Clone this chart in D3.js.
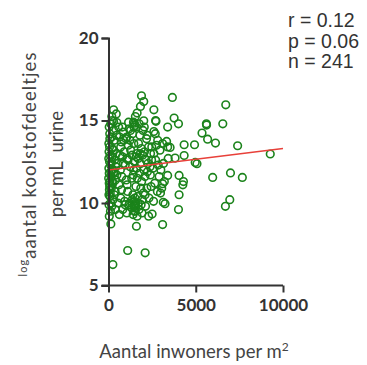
<!DOCTYPE html>
<html>
<head>
<meta charset="utf-8">
<script src="https://cdn.jsdelivr.net/npm/d3@7"></script>
<style>
  html, body { margin: 0; padding: 0; background: #fff; }
  svg { display: block; }
</style>
</head>
<body>
<svg id="chart" width="367" height="365"></svg>
<script>
// Population density (inhabitants per m²) and log particle count per mL urine
const popDensity = [
  // sparse right-hand part and outliers
  3660, 6720, 3760, 4010, 3390, 5610, 5620, 6550, 5360, 5680, 6130, 7400, 4930, 4335, 3330, 3530, 3390,
  4335, 3815, 3420, 4970, 5070, 9270, 3390, 4045, 4295, 4260, 5970, 6990, 7670, 3100, 4045, 3240, 3140,
  4010, 3100, 6950, 6700, 250, 1100, 2100, 1600, 135, 2500,
  // upper group
  1890, 2020, 2600, 1830, 1640, 1540, 290, 445, 190, 290, 480, 1485, 1430, 1520, 1460, 2020, 2700, 2720, 2600,
  // column near zero
  20, 40, 60, 30, 80, 50, 100, 20, 70, 40, 90, 30, 150, 120, 60, 180, 200, 160, 110, 250, 230, 280, 300, 260,
  320, 350, 340, 380, 400, 420, 450, 470, 390, 210, 130, 10, 15, 25, 45, 75, 95, 140, 190, 330, 480,
  // 500 - 1500
  520, 210, 600, 640, 680, 700, 730, 760, 800, 820, 850, 70, 900, 930, 960, 1000, 1020, 1050, 1080, 1100,
  1130, 130, 1190, 1210, 1240, 1270, 40, 1330, 1350, 1380, 1400, 1420, 1450, 1480, 1490, 540, 580, 620,
  660, 750, 790, 840, 870, 290, 100, 1040, 1070, 1120, 1170, 1230, 180, 1360, 1440, 700, 950, 1150, 1260,
  1410, 1470, 1330,
  // 1500 - 2500
  1500, 1520, 1550, 1480, 1530, 1560, 1510, 1570, 1600, 1620, 1650, 1680, 1700, 1720, 1750, 1780, 1800, 1830,
  1850, 1880, 1900, 1920, 1950, 1980, 2000, 2030, 2060, 2090, 2120, 2150, 2180, 2200, 2230, 2260, 2290, 2320,
  230, 2380, 2410, 2440, 2470, 1600, 1640, 1760, 1700, 1870, 1940, 2050, 2100, 2220, 2300, 2400, 2480, 1590, 1820,
  // 2500 - 3500
  2550, 2600, 2650, 2700, 2750, 2800, 2850, 2900, 2950, 3000, 3050, 3100, 3150, 3200, 2580, 2680, 2820, 2980
];
const logParticles = [
  16.4, 15.95, 15.15, 14.8, 14.6, 14.8, 14.72, 14.8, 14.24, 13.87, 13.63, 13.47, 13.53, 13.53, 13.73, 13.37, 13.4,
  12.88, 12.72, 12.7, 12.46, 12.38, 12.97, 11.67, 11.67, 11.3, 11.1, 11.55, 11.82, 11.55, 11.17, 10.5, 9.96, 10.04,
  9.6, 8.69, 10.2, 9.8, 6.27, 7.12, 6.98, 8.59, 8.73, 9.33,
  16.5, 16.15, 15.65, 15.85, 15.45, 15.24, 15.65, 15.4, 15.24, 14.94, 14.88, 14.84, 14.9, 14.7, 14.6, 14.98, 15.0, 14.95, 14.33,
  12.1, 11.8, 12.5, 13.1, 11.3, 10.8, 12.9, 13.6, 14.2, 14.6, 10.4, 9.9, 11.6, 12.3, 13.4, 14.0, 12.8, 10.9, 9.5, 11.2, 12.0, 13.2, 14.4, 10.2,
  11.9, 12.6, 13.8, 10.7, 11.4, 12.2, 13.0, 14.1, 9.6, 15.0, 14.8, 11.5, 12.7, 10.5, 9.2, 13.9, 11.0, 10.0, 9.8, 10.5, 11.7,
  12.4, 13.3, 11.1, 14.0, 12.0, 10.3, 13.7, 11.6, 12.8, 9.6, 14.3, 11.0, 13.1, 10.1, 12.3, 13.9, 11.4, 9.4, 12.7, 10.7,
  13.5, 11.9, 14.5, 10.0, 12.2, 13.2, 11.2, 9.7, 12.9, 14.2, 10.5, 11.7, 13.6, 9.5, 12.5, 10.0, 14.6, 9.3,
  12.9, 10.8, 14.6, 12.4, 13.8, 11.8, 10.6, 14.0, 11.1, 12.6, 9.9, 13.8, 12.5, 10.2, 12.0, 13.4, 9.9, 14.9, 14.4,
  9.3, 9.8, 11.5,
  9.9, 9.7, 10.0, 10.1, 9.5, 9.8, 10.3, 11.0, 12.1, 13.0, 11.5, 10.4, 12.7, 13.6, 9.6, 11.8, 14.1, 12.4,
  10.9, 13.3, 11.3, 9.4, 12.9, 14.4, 10.6, 12.0, 13.1, 11.6, 9.8, 12.6, 13.9, 10.9, 11.9, 12.4, 13.4, 10.3,
  11.3, 12.2, 13.0, 11.0, 12.6, 14.6, 9.2, 14.8, 10.0, 9.9, 10.2, 14.6, 10.5, 14.1, 9.2, 11.7, 13.4, 12.8, 13.0,
  12.1, 13.0, 11.2, 12.6, 13.5, 10.7, 12.3, 11.6, 13.2, 12.0, 10.9, 13.6, 12.4, 11.3, 10.1, 14.2, 13.8, 10.6
];
// Linear fit endpoints
const fitX = [0, 10000];
const fitY = [12.0, 13.3];
// Axis ticks and statistics
const xTicks = [0, 5000, 10000];
const yTicks = [5, 10, 15, 20];
const statLines = ["r = 0.12", "p = 0.06", "n = 241"];

const svg = d3.select("#chart");
const axisColor = "#333";
const green = "#1b831b";
const labelFont = "Lato, 'Open Sans', sans-serif";

const x = d3.scaleLinear().domain([0, 10000]).range([108.5, 283]);
const y = d3.scaleLinear().domain([5, 20]).range([285.5, 38]);

// Scatter points
svg.append("g")
  .selectAll("circle")
  .data(popDensity.map((d, i) => [d, logParticles[i]]))
  .join("circle")
  .attr("cx", d => x(d[0]))
  .attr("cy", d => y(d[1]))
  .attr("r", 3.8)
  .attr("fill", "none")
  .attr("stroke", green)
  .attr("stroke-width", 1.6);

// Regression line
svg.append("line")
  .attr("x1", x(fitX[0])).attr("y1", y(fitY[0]))
  .attr("x2", x(fitX[1])).attr("y2", y(fitY[1]))
  .attr("stroke", "#e8403a")
  .attr("stroke-width", 1.5);

// Axes
const xAxis = svg.append("g")
  .attr("transform", `translate(0,${y(5)})`)
  .call(d3.axisBottom(x).tickValues(xTicks).tickFormat(d3.format("d")).tickSize(7).tickPadding(6));
const yAxis = svg.append("g")
  .attr("transform", `translate(${x(0)},0)`)
  .call(d3.axisLeft(y).tickValues(yTicks).tickSize(7).tickPadding(3));

[xAxis, yAxis].forEach(g => {
  g.select(".domain").attr("stroke", axisColor).attr("stroke-width", 2);
  g.selectAll(".tick line").attr("stroke", axisColor).attr("stroke-width", 2);
  g.selectAll(".tick text")
    .attr("fill", axisColor)
    .style("font-family", labelFont)
    .style("font-weight", "bold")
    .style("font-size", "17px");
});
xAxis.select(".domain").attr("d", `M${x(0) - 7},0H${x(10000)}`);

// Axis titles
svg.append("text")
  .attr("x", 194).attr("y", 358)
  .attr("text-anchor", "middle")
  .attr("fill", "#444")
  .style("font-family", labelFont)
  .style("font-size", "18.5px")
  .html('Aantal inwoners per m<tspan dy="-7" font-size="12px">2</tspan>');

const yTitle = svg.append("g")
  .attr("transform", "translate(0,164) rotate(-90)")
  .style("font-family", labelFont)
  .style("font-size", "18.5px")
  .attr("fill", "#444");
yTitle.append("text")
  .attr("x", 0).attr("y", 36)
  .attr("text-anchor", "middle")
  .style("letter-spacing", "1.1px")
  .html('<tspan font-size="11px" dy="-9">log</tspan><tspan dy="9">aantal koolstofdeeltjes</tspan>');
yTitle.append("text")
  .attr("x", 0).attr("y", 63)
  .attr("text-anchor", "middle")
  .attr("xml:space", "preserve")
  .text("per mL  urine");

// Correlation statistics
svg.append("g")
  .selectAll("text")
  .data(statLines)
  .join("text")
  .attr("x", 288)
  .attr("y", (d, i) => 27 + i * 20.7)
  .attr("fill", "#333")
  .style("font-family", "'Liberation Sans', Arial, sans-serif")
  .style("font-size", "19.5px")
  .text(d => d);
</script>
</body>
</html>
